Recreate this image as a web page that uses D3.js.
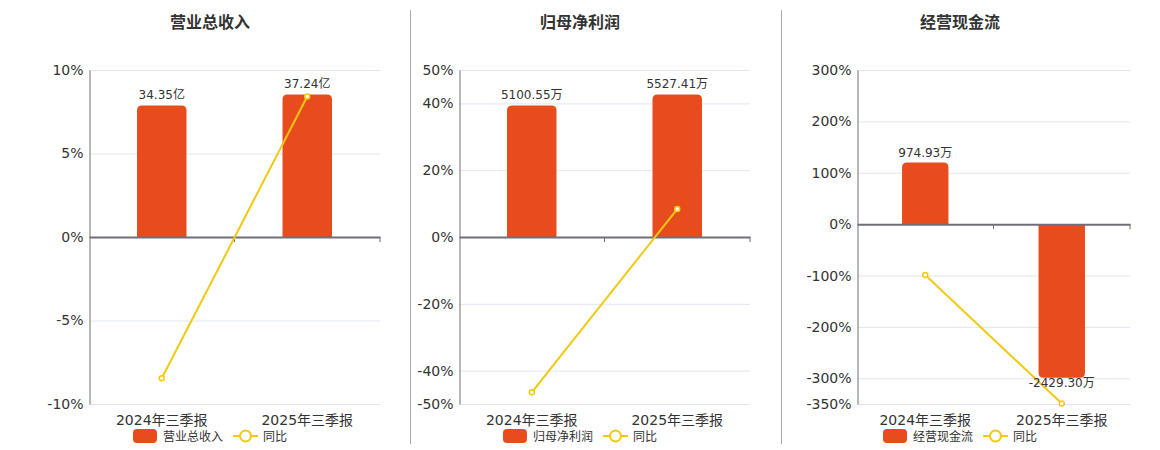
<!DOCTYPE html>
<html>
<head>
<meta charset="utf-8">
<script src="https://cdn.jsdelivr.net/npm/d3@7"></script>
<style>
  body { margin: 0; background: #fff; }
  svg { display: block; font-family: "DejaVu Sans", "Noto Sans CJK SC", sans-serif; }
</style>
</head>
<body>
<div id="chart"></div>
<script>
// data
var categories = ["2024年三季报", "2025年三季报"];

var revenue = [34.35, 37.24];          // 亿
var revenueYoY = [-8.46, 8.41];        // %
var revenueTicks = [-10, -5, 0, 5, 10];

var profit = [5100.55, 5527.41];       // 万
var profitYoY = [-46.5, 8.37];
var profitTicks = [-50, -40, -20, 0, 20, 40, 50];

var cash = [974.93, -2429.30];         // 万
var cashYoY = [-98.9, -349.18];
var cashTicks = [-350, -300, -200, -100, 0, 100, 200, 300];

var barColor = "#e84b1c",
    lineColor = "#f2c811",
    axisColor = "#6e7079",
    gridColor = "#e0e6f1",
    textColor = "#333";

var W = 1160, H = 450,
    plotTop = 70, plotBottom = 404;

var svg = d3.select("#chart")
  .append("svg")
    .attr("width", W)
    .attr("height", H);

// panel dividers
[410.5, 781.5].forEach(function(x) {
  svg.append("line")
    .attr("x1", x).attr("x2", x)
    .attr("y1", 10).attr("y2", 444)
    .attr("stroke", "#aaa");
});

var panels = [
  {title: "营业总收入", bars: revenue, yoy: revenueYoY, ticks: revenueTicks, unit: "亿",
   left: 89, right: 380, center: 210},
  {title: "归母净利润", bars: profit, yoy: profitYoY, ticks: profitTicks, unit: "万",
   left: 459, right: 750, center: 580},
  {title: "经营现金流", bars: cash, yoy: cashYoY, ticks: cashTicks, unit: "万",
   left: 857, right: 1130, center: 960}
];

panels.forEach(drawPanel);

function drawPanel(p) {
  var g = svg.append("g");

  // title
  g.append("text")
    .attr("x", p.center).attr("y", 28)
    .attr("text-anchor", "middle")
    .attr("font-size", 16).attr("font-weight", "bold")
    .attr("fill", textColor)
    .text(p.title);

  var x = d3.scaleBand()
    .domain(categories)
    .range([p.left, p.right]);

  var dom = d3.extent(p.ticks);
  var y = d3.scaleLinear()
    .domain(dom)
    .range([plotBottom, plotTop]);

  // hidden bar axis, zero aligned with the percent axis
  var maxAbs = d3.max(p.bars, function(d) { return Math.abs(d); });
  var big = p.bars.find(function(d) { return Math.abs(d) === maxAbs; });
  var ext = big >= 0 ? dom[1] : -dom[0];
  var k = maxAbs / (0.854 * ext);
  var yb = d3.scaleLinear()
    .domain([dom[0] * k, dom[1] * k])
    .range([plotBottom, plotTop]);

  // grid
  g.append("g")
    .selectAll("line")
    .data(p.ticks.filter(function(d) { return d !== 0; }))
    .enter()
    .append("line")
      .attr("x1", p.left).attr("x2", p.right)
      .attr("y1", function(d) { return y(d) + 0.5; })
      .attr("y2", function(d) { return y(d) + 0.5; })
      .attr("stroke", gridColor);

  // y axis
  var yAxis = d3.axisLeft(y)
    .tickValues(p.ticks)
    .tickSize(0)
    .tickPadding(6)
    .tickFormat(function(d) { return d + "%"; });
  var ya = g.append("g")
    .attr("transform", "translate(" + (p.left + 0.5) + ",0)")
    .call(yAxis);
  ya.select(".domain").attr("stroke", axisColor);
  ya.selectAll("text")
    .attr("font-size", 14)
    .attr("fill", textColor)
    .attr("font-family", "DejaVu Sans, Noto Sans CJK SC, sans-serif");

  // bars
  var bw = x.bandwidth() * 0.34;
  g.append("g")
    .selectAll("path")
    .data(p.bars)
    .enter()
    .append("path")
      .attr("d", function(d, i) {
        var cx = x(categories[i]) + x.bandwidth() / 2;
        return barPath(cx - bw / 2, bw, yb(0), yb(d), 5);
      })
      .attr("fill", barColor);

  // zero axis with ticks at band edges
  var za = g.append("g")
    .attr("transform", "translate(0," + y(0) + ")")
    .call(d3.axisBottom(x).tickSize(0).tickFormat(""));
  za.select(".domain").attr("stroke", axisColor).attr("stroke-width", 2);
  za.selectAll(".tick").remove();
  g.append("g")
    .selectAll("line")
    .data(categories)
    .enter()
    .append("line")
      .attr("x1", function(d) { return x(d) + x.bandwidth(); })
      .attr("x2", function(d) { return x(d) + x.bandwidth(); })
      .attr("y1", y(0)).attr("y2", y(0) + 5)
      .attr("stroke", axisColor);

  // category labels
  g.append("g")
    .selectAll("text")
    .data(categories)
    .enter()
    .append("text")
      .attr("x", function(d) { return x(d) + x.bandwidth() / 2; })
      .attr("y", 425)
      .attr("text-anchor", "middle")
      .attr("font-size", 14)
      .attr("fill", textColor)
      .text(function(d) { return d; });

  // yoy line
  var line = d3.line()
    .x(function(d, i) { return x(categories[i]) + x.bandwidth() / 2; })
    .y(function(d) { return y(d); });
  g.append("path")
    .datum(p.yoy)
    .attr("d", line)
    .attr("fill", "none")
    .attr("stroke", lineColor)
    .attr("stroke-width", 2);
  g.append("g")
    .selectAll("circle")
    .data(p.yoy)
    .enter()
    .append("circle")
      .attr("cx", function(d, i) { return x(categories[i]) + x.bandwidth() / 2; })
      .attr("cy", function(d) { return y(d); })
      .attr("r", 2.5)
      .attr("fill", "#fff")
      .attr("stroke", lineColor)
      .attr("stroke-width", 1.5);

  // bar labels
  g.append("g")
    .selectAll("text")
    .data(p.bars)
    .enter()
    .append("text")
      .attr("x", function(d, i) { return x(categories[i]) + x.bandwidth() / 2; })
      .attr("y", function(d) { return d >= 0 ? yb(d) - 6 : yb(d) + 9; })
      .attr("text-anchor", "middle")
      .attr("font-size", 12)
      .attr("fill", textColor)
      .text(function(d) { return d.toFixed(2) + p.unit; });

  // legend
  var lg = g.append("g");
  lg.append("rect")
    .attr("x", 0).attr("y", 429)
    .attr("width", 24).attr("height", 14)
    .attr("rx", 4)
    .attr("fill", barColor);
  var t1 = lg.append("text")
    .attr("x", 30).attr("y", 440.5)
    .attr("font-size", 12)
    .attr("fill", textColor)
    .text(p.title);
  var lx = 30 + t1.node().getComputedTextLength() + 10;
  lg.append("line")
    .attr("x1", lx).attr("x2", lx + 25)
    .attr("y1", 436).attr("y2", 436)
    .attr("stroke", lineColor).attr("stroke-width", 2);
  lg.append("circle")
    .attr("cx", lx + 12.5).attr("cy", 436)
    .attr("r", 5.5)
    .attr("fill", "#fff")
    .attr("stroke", lineColor).attr("stroke-width", 2);
  var t2 = lg.append("text")
    .attr("x", lx + 30).attr("y", 440.5)
    .attr("font-size", 12)
    .attr("fill", textColor)
    .text("同比");
  var total = lx + 30 + t2.node().getComputedTextLength();
  lg.attr("transform", "translate(" + (p.center - total / 2) + ",0)");
}

// bar with rounded corners at the far end
function barPath(x0, w, y0, y1, r) {
  var h = Math.abs(y1 - y0);
  r = Math.min(r, h, w / 2);
  if (y1 <= y0) {
    return "M" + x0 + "," + y0 +
      "V" + (y1 + r) +
      "Q" + x0 + "," + y1 + " " + (x0 + r) + "," + y1 +
      "H" + (x0 + w - r) +
      "Q" + (x0 + w) + "," + y1 + " " + (x0 + w) + "," + (y1 + r) +
      "V" + y0 + "Z";
  }
  return "M" + x0 + "," + y0 +
    "V" + (y1 - r) +
    "Q" + x0 + "," + y1 + " " + (x0 + r) + "," + y1 +
    "H" + (x0 + w - r) +
    "Q" + (x0 + w) + "," + y1 + " " + (x0 + w) + "," + (y1 - r) +
    "V" + y0 + "Z";
}
</script>
</body>
</html>
